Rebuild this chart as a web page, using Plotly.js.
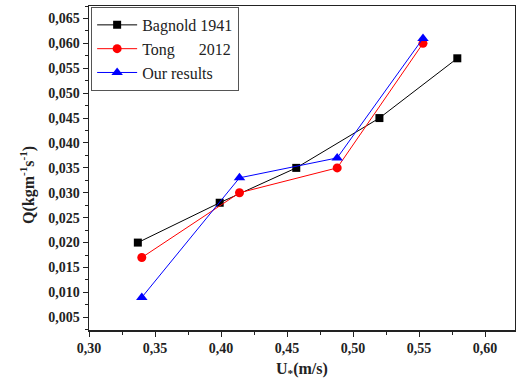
<!DOCTYPE html>
<html><head><meta charset="utf-8">
<script src="https://cdn.plot.ly/plotly-3.0.1.min.js"></script>
<style>body{margin:0;padding:0;background:#fff}#chart{width:516px;height:378px}</style>
</head><body><div id="chart"></div>
<script>
const bagnoldX = [0.337, 0.399, 0.457, 0.520, 0.579];
const bagnoldY = [0.020, 0.028, 0.035, 0.045, 0.057];
const tongX = [0.340, 0.414, 0.488, 0.553];
const tongY = [0.017, 0.030, 0.035, 0.060];
const oursX = [0.340, 0.414, 0.488, 0.553];
const oursY = [0.009, 0.033, 0.037, 0.061];
const seriesNames = ['Bagnold 1941', 'Tong\u00a0\u00a0\u00a0\u00a0\u00a0\u00a02012', 'Our results'];
const xTitle = 'U<sub>*</sub>(m/s)';
const yTitle = 'Q(kgm<sup>-1</sup>s<sup>-1</sup>)';

const font = '"Liberation Serif", "Times New Roman", serif';
const traces = [
  {x: bagnoldX, y: bagnoldY, name: seriesNames[0], mode: 'lines+markers',
   line: {color: '#000', width: 1}, marker: {symbol: 'square', size: 8, color: '#000'}},
  {x: tongX, y: tongY, name: seriesNames[1], mode: 'lines+markers',
   line: {color: '#ff0000', width: 1}, marker: {symbol: 'circle', size: 9, color: '#ff0000'}},
  {x: oursX, y: oursY, name: seriesNames[2], mode: 'lines+markers',
   line: {color: '#0000ff', width: 1}, marker: {symbol: 'triangle-up', size: 10, color: '#0000ff'}}
];
const layout = {
  width: 516, height: 378,
  margin: {l: 89, r: 1, t: 6, b: 48},
  paper_bgcolor: '#fff', plot_bgcolor: '#fff',
  separators: ',.',
  showlegend: true,
  legend: {x: 0.005, y: 0.997, xanchor: 'left', yanchor: 'top',
    bgcolor: '#fff', bordercolor: '#555', borderwidth: 1,
    font: {family: font, size: 16, color: '#222'}, tracegroupgap: 0, itemwidth: 40},
  xaxis: {range: [0.30, 0.6227], tickvals: [0.30,0.35,0.40,0.45,0.50,0.55,0.60], tickformat: '.2f',
    showgrid: false, zeroline: false, showline: true, linecolor: '#222', linewidth: 1.5, mirror: true,
    ticks: 'outside', ticklen: 5, tickwidth: 1, tickcolor: '#222',
    minor: {dtick: 0.025, tick0: 0.30, ticks: 'outside', ticklen: 3, tickcolor: '#222'},
    tickfont: {family: font, size: 14, color: '#222', weight: 'bold'}},
  yaxis: {range: [0.00245, 0.0675], tickvals: [0.005,0.010,0.015,0.020,0.025,0.030,0.035,0.040,0.045,0.050,0.055,0.060,0.065], tickformat: '.3f',
    showgrid: false, zeroline: false, showline: true, linecolor: '#222', linewidth: 1.5, mirror: true,
    ticks: 'outside', ticklen: 5, tickwidth: 1, tickcolor: '#222',
    minor: {dtick: 0.0025, tick0: 0.0025, ticks: 'outside', ticklen: 3, tickcolor: '#222'},
    tickfont: {family: font, size: 14, color: '#222', weight: 'bold'}},
  annotations: [
    {text: xTitle, xref: 'paper', yref: 'paper', x: 0.5, y: -0.123, xanchor: 'center', yanchor: 'middle',
     showarrow: false, font: {family: font, size: 16, color: '#222', weight: 'bold'}},
    {text: yTitle, xref: 'paper', yref: 'paper', x: -0.1455, y: 0.4475, xanchor: 'center', yanchor: 'middle',
     textangle: -90, showarrow: false, font: {family: font, size: 16, color: '#222', weight: 'bold'}}
  ]
};
Plotly.newPlot('chart', traces, layout, {displayModeBar: false, staticPlot: true});
</script>
</body></html>
